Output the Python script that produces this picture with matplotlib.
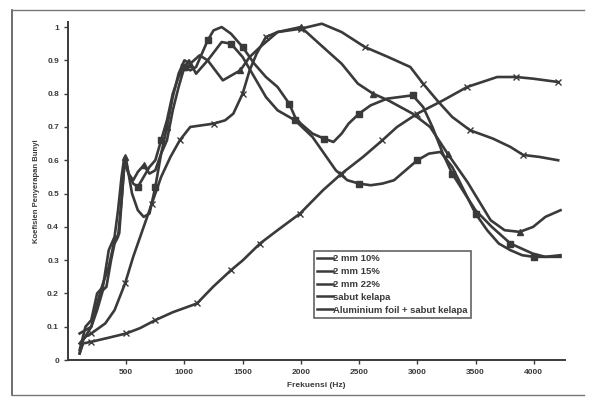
import matplotlib
matplotlib.use("Agg")
import matplotlib.pyplot as plt
from matplotlib.lines import Line2D

# frequency (Hz) / absorption values
freq_10 = [100, 150, 200, 250, 300, 350, 400, 430, 460, 480, 520, 560, 600, 650, 700, 750,
           800, 850, 900, 950, 1000, 1050, 1100, 1150, 1200, 1250, 1320, 1400, 1500, 1600,
           1700, 1800, 1900, 1950, 2000, 2100, 2200, 2280, 2350, 2410, 2500, 2600, 2740,
           2850, 2960, 3050, 3130, 3220, 3300, 3390, 3500, 3640, 3800, 3990, 4100, 4230]
val_10 = [0.03, 0.10, 0.12, 0.20, 0.22, 0.33, 0.37, 0.45, 0.55, 0.60, 0.56, 0.53, 0.52, 0.55,
          0.58, 0.60, 0.66, 0.72, 0.80, 0.85, 0.88, 0.87, 0.88, 0.92, 0.96, 0.99, 1.00, 0.98,
          0.94, 0.89, 0.85, 0.82, 0.77, 0.73, 0.71, 0.68, 0.665, 0.655, 0.68, 0.71, 0.74,
          0.765, 0.785, 0.79, 0.795, 0.76, 0.70, 0.62, 0.56, 0.51, 0.45, 0.40, 0.35, 0.32,
          0.31, 0.31]

freq_15 = [100, 150, 200, 250, 300, 350, 400, 440, 480, 500, 550, 600, 650, 700, 750, 800,
           850, 900, 950, 1000, 1040, 1100, 1200, 1320, 1400, 1500, 1600, 1700, 1800, 1950,
           2100, 2200, 2300, 2400, 2500, 2600, 2700, 2800, 2900, 3000, 3100, 3200, 3300,
           3400, 3500, 3600, 3700, 3800, 3900, 4000, 4100, 4230]
val_15 = [0.08, 0.09, 0.10, 0.17, 0.23, 0.28, 0.36, 0.38, 0.57, 0.60, 0.50, 0.45, 0.43, 0.44,
          0.52, 0.62, 0.66, 0.75, 0.82, 0.88, 0.90, 0.86, 0.90, 0.955, 0.95, 0.91, 0.85, 0.79,
          0.75, 0.72, 0.67, 0.62, 0.57, 0.54, 0.53, 0.525, 0.53, 0.54, 0.57, 0.60, 0.62,
          0.625, 0.58, 0.51, 0.44, 0.39, 0.35, 0.33, 0.315, 0.31, 0.31, 0.315]

freq_22 = [100, 130, 200, 250, 300, 330, 370, 400, 430, 460, 490, 520, 560, 600, 650, 700,
           750, 800, 850, 900, 950, 1000, 1050, 1130, 1200, 1330, 1480, 1560, 1650, 1800,
           2000, 2190, 2350, 2490, 2620, 2750, 2960, 3110, 3260, 3430, 3630, 3750, 3880,
           3995, 4100, 4230]
val_22 = [0.02, 0.06, 0.10, 0.15, 0.21, 0.22, 0.30, 0.35, 0.37, 0.48, 0.61, 0.56, 0.54, 0.565,
          0.585, 0.56, 0.57, 0.62, 0.70, 0.79, 0.86, 0.90, 0.89, 0.915, 0.90, 0.84, 0.87,
          0.91, 0.94, 0.985, 1.00, 0.94, 0.89, 0.83, 0.80, 0.78, 0.74, 0.70, 0.62, 0.535,
          0.42, 0.39, 0.385, 0.40, 0.43, 0.45]

freq_sabut = [100, 150, 200, 320, 400, 490, 560, 640, 720, 800, 880, 960, 1050, 1150, 1250,
              1350, 1420, 1500, 1560, 1620, 1700, 1800, 1900, 2000, 2180, 2350, 2550, 2750,
              2940, 3050, 3170, 3300, 3454, 3650, 3800, 3909, 4050, 4210]
val_sabut = [0.05, 0.07, 0.08, 0.11, 0.15, 0.23, 0.31, 0.39, 0.47, 0.55, 0.61, 0.66, 0.70,
             0.705, 0.71, 0.72, 0.74, 0.80, 0.87, 0.92, 0.97, 0.985, 0.99, 0.995, 1.01, 0.985,
             0.94, 0.91, 0.88, 0.83, 0.78, 0.73, 0.69, 0.665, 0.64, 0.616, 0.61, 0.60]

freq_alu = [100, 130, 200, 335, 500, 619, 750, 902, 1108, 1246, 1400, 1503, 1649, 1800,
            1993, 2190, 2350, 2534, 2700, 2826, 3000, 3222, 3428, 3686, 3850, 3995, 4210]
val_alu = [0.02, 0.05, 0.055, 0.066, 0.08, 0.096, 0.12, 0.144, 0.17, 0.22, 0.27, 0.30, 0.35,
           0.39, 0.44, 0.51, 0.56, 0.61, 0.66, 0.70, 0.74, 0.78, 0.82, 0.85, 0.85, 0.845, 0.835]

labels = ["2 mm 10%", "2 mm 15%", "2 mm 22%", "sabut kelapa", "Aluminium foil + sabut kelapa"]
y_ticks = [0, 0.1, 0.2, 0.3, 0.4, 0.5, 0.6, 0.7, 0.8, 0.9, 1]
x_ticks = [500, 1000, 1500, 2000, 2500, 3000, 3500, 4000]

plt.rcParams['font.family'] = ['Liberation Sans', 'DejaVu Sans']
ink = '#3a3a3a'

fig = plt.figure(figsize=(5.99, 4.01), dpi=100)
ax = fig.add_axes([0.1135, 0.102, 0.83, 0.843])

series = [
    (freq_10, val_10, 's', list(range(12, 56, 4))),
    (freq_15, val_15, 's', list(range(14, 52, 5))),
    (freq_22, val_22, '^', list(range(10, 46, 4))),
    (freq_sabut, val_sabut, 'x', list(range(2, 38, 3))),
    (freq_alu, val_alu, 'x', list(range(2, 27, 2))),
]
for fx, fy, mk, every in series:
    ax.plot(fx, fy, color=ink, lw=1.9, marker=mk, markevery=every, ms=4,
            mew=1.0, mfc=ink, mec=ink, solid_joinstyle='round')

ax.set_xlim(0, 4270)
ax.set_ylim(0, 1.015)
ax.spines['top'].set_visible(False)
ax.spines['right'].set_visible(False)
for s in ('left', 'bottom'):
    ax.spines[s].set_color(ink)
    ax.spines[s].set_linewidth(1.4)

ax.set_yticks(y_ticks)
ax.set_yticklabels([f"{v:g}" for v in y_ticks])
ax.set_xticks(x_ticks)
ax.tick_params(colors=ink, labelsize=6, length=3, width=1)
for t in ax.get_xticklabels() + ax.get_yticklabels():
    t.set_fontweight('bold')

ax.set_xlabel("Frekuensi (Hz)", fontsize=6, fontweight='bold', color=ink, labelpad=4)
ax.set_ylabel("Koefisien Penyerapan Bunyi", fontsize=5.5, fontweight='bold', color=ink,
              labelpad=5)

handles = [Line2D([0], [0], color=ink, lw=1.8) for _ in labels]
leg = ax.legend(handles, labels, loc='lower left', bbox_to_anchor=(0.495, 0.125),
                fontsize=6.8, frameon=True, fancybox=False, handlelength=1.6,
                handletextpad=0.1, borderpad=0.35, labelspacing=0.4, borderaxespad=0)
leg.get_frame().set_edgecolor(ink)
leg.get_frame().set_linewidth(1.2)
for t in leg.get_texts():
    t.set_fontweight('bold')
    t.set_color(ink)

# scanned page border
fig.add_artist(Line2D([0.02, 0.02], [0.015, 0.975], color='#555555', lw=1.2))
fig.add_artist(Line2D([0.02, 0.975], [0.975, 0.975], color='#777777', lw=1.0))
fig.add_artist(Line2D([0.02, 0.975], [0.015, 0.015], color='#777777', lw=1.0))

fig.savefig("out.png", dpi=100)
